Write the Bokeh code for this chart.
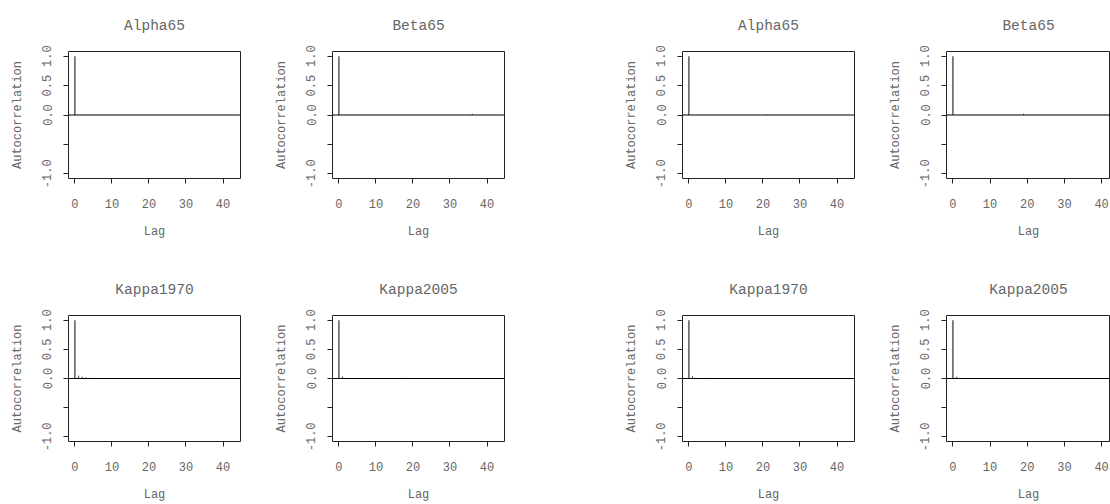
from bokeh.plotting import figure
from bokeh.layouts import column, row
from bokeh.models import FixedTicker, Span, Range1d
from bokeh.embed import file_html
from bokeh.resources import INLINE

lags = list(range(44))

titles = ["Alpha65", "Beta65", "Kappa1970", "Kappa2005"]

alpha65_a = [1.0, 0.004, -0.003, 0.002, -0.004, 0.003, -0.002, 0.004, -0.003, 0.002, 0.003,
             -0.004, 0.002, -0.003, 0.004, -0.002, 0.003, 0.005, -0.003, 0.002, -0.004, 0.003,
             0.004, -0.002, 0.003, -0.003, 0.002, 0.004, -0.002, 0.003, -0.004, 0.002, 0.003,
             -0.003, 0.004, 0.002, -0.003, 0.005, -0.002, 0.003, -0.004, 0.002, 0.003, -0.002]
beta65_a = [1.0, 0.003, -0.002, 0.004, -0.003, 0.002, 0.003, -0.004, 0.002, -0.003, 0.003,
            0.002, -0.004, 0.003, -0.002, 0.004, 0.002, -0.003, 0.003, -0.002, 0.004, -0.003,
            0.006, 0.002, -0.003, 0.003, -0.005, 0.002, 0.003, -0.004, 0.002, -0.003, 0.003,
            0.002, -0.002, 0.004, 0.02, 0.003, -0.003, 0.002, 0.004, -0.002, 0.003, -0.003]
kappa1970_a = [1.0, 0.05, 0.03, 0.02, 0.012, 0.006, 0.008, 0.005, 0.004, -0.003, 0.003,
               0.002, 0.004, -0.006, 0.003, 0.002, -0.003, 0.004, 0.002, 0.005, -0.002, 0.003,
               0.002, -0.004, 0.003, 0.002, -0.003, 0.004, 0.002, 0.003, -0.002, 0.004, 0.003,
               0.002, -0.003, 0.003, 0.004, 0.002, -0.002, 0.003, 0.004, 0.002, -0.003, 0.002]
kappa2005_a = [1.0, 0.035, 0.006, 0.004, 0.003, -0.003, 0.004, 0.002, 0.005, 0.003, -0.002,
               0.004, 0.003, 0.002, 0.004, 0.003, -0.002, 0.004, 0.012, 0.003, -0.004, 0.002,
               -0.003, 0.003, 0.002, -0.004, 0.003, 0.002, -0.003, 0.004, 0.002, 0.003, -0.003,
               0.002, 0.004, -0.002, 0.003, 0.002, -0.003, 0.003, 0.002, 0.003, -0.002, 0.003]
alpha65_b = [1.0, 0.003, -0.002, 0.003, -0.004, -0.003, 0.002, 0.004, -0.002, 0.003, -0.003,
             0.002, 0.004, -0.002, -0.004, 0.003, 0.002, -0.003, 0.004, 0.002, -0.002, 0.01,
             0.003, -0.003, 0.002, 0.004, -0.002, 0.003, -0.003, 0.002, 0.004, -0.003, 0.002,
             0.003, -0.002, 0.004, 0.002, -0.003, 0.003, 0.002, -0.004, 0.003, 0.002, -0.002]
beta65_b = [1.0, 0.004, 0.002, -0.003, 0.003, 0.002, -0.002, 0.004, 0.003, -0.003, 0.002,
            0.004, 0.005, -0.002, 0.003, 0.004, -0.003, 0.002, 0.004, 0.02, 0.003, -0.002,
            0.004, 0.002, -0.003, 0.003, 0.002, -0.004, 0.003, 0.002, -0.003, 0.004, 0.002,
            0.003, -0.002, 0.003, 0.004, -0.003, 0.002, 0.003, -0.002, 0.004, 0.002, -0.003]
kappa1970_b = [1.0, 0.04, 0.006, 0.004, -0.003, 0.004, 0.01, 0.008, 0.004, 0.003, -0.002,
               0.003, 0.004, -0.003, 0.002, 0.003, -0.004, 0.003, 0.002, -0.003, 0.004, 0.002,
               0.003, -0.002, 0.004, 0.003, -0.003, 0.002, 0.004, -0.002, 0.003, 0.005, -0.003,
               0.002, 0.004, -0.005, 0.003, 0.002, -0.003, 0.004, 0.002, -0.003, 0.003, 0.002]
kappa2005_b = [1.0, 0.03, 0.004, 0.003, -0.003, 0.002, 0.004, 0.003, -0.002, 0.003, 0.004,
               -0.003, 0.002, 0.004, 0.003, -0.002, 0.003, 0.002, -0.003, 0.004, 0.002, 0.003,
               -0.002, 0.004, 0.003, -0.003, 0.002, 0.003, 0.004, -0.002, 0.003, 0.006, 0.002,
               -0.003, 0.004, 0.002, 0.003, -0.002, 0.003, 0.004, -0.003, 0.002, 0.003, 0.002]

y_ticks = [-1.0, -0.5, 0.0, 0.5, 1.0]
y_tick_labels = {-1.0: "-1.0", -0.5: "", 0.0: "0.0", 0.5: "0.5", 1.0: "1.0"}
x_ticks = [0, 10, 20, 30, 40]

FONT = "Liberation Mono"
TXT = "#666666"
LINE = "#222222"


def make_panel(title, vals, width, border_right, height, border_bottom, x_end):
    p = figure(width=width, height=height, output_backend="svg", toolbar_location=None,
               x_range=Range1d(-1.72, x_end), y_range=Range1d(-1.08, 1.08),
               min_border_left=68, min_border_right=border_right,
               min_border_top=51, min_border_bottom=border_bottom,
               title=title)
    p.title.align = "center"
    p.title.vertical_align = "top"
    p.title.text_font = FONT
    p.title.text_font_size = "14.5px"
    p.title.text_font_style = "normal"
    p.title.text_color = TXT
    p.title.standoff = 31
    p.xgrid.visible = False
    p.ygrid.visible = False
    p.outline_line_color = LINE
    p.outline_line_width = 1
    p.background_fill_color = "white"
    p.border_fill_color = "white"

    for ax in (p.xaxis[0], p.yaxis[0]):
        ax.axis_line_color = None
        ax.major_tick_line_color = LINE
        ax.major_tick_in = 0
        ax.major_tick_out = 5
        ax.minor_tick_line_color = None
        ax.major_label_text_font = FONT
        ax.major_label_text_font_size = "12px"
        ax.major_label_text_color = TXT
        ax.axis_label_text_font = FONT
        ax.axis_label_text_font_size = "12px"
        ax.axis_label_text_font_style = "normal"
        ax.axis_label_text_color = TXT

    p.xaxis.ticker = FixedTicker(ticks=x_ticks)
    p.xaxis.axis_label = "Lag"
    p.xaxis.major_label_standoff = 15
    p.xaxis.axis_label_standoff = 14

    p.yaxis.ticker = FixedTicker(ticks=y_ticks)
    p.yaxis.major_label_overrides = y_tick_labels
    p.yaxis.major_label_orientation = "vertical"
    p.yaxis.axis_label = "Autocorrelation"
    p.yaxis.major_label_standoff = 12
    p.yaxis.axis_label_standoff = 15

    p.add_layout(Span(location=0, dimension="width", line_color="black", line_width=1))
    p.segment(x0=lags[1:], y0=[0] * (len(lags) - 1), x1=lags[1:], y1=vals[1:],
              line_color="#444444", line_width=1)
    p.segment(x0=[lags[0]], y0=[0], x1=[lags[0]], y1=[vals[0]],
              line_color="#666666", line_width=1.6)
    return p


widths = [264, 350, 264, 232]
borders_right = [24, 110, 24, 0]
x_ends = [44.72, 44.72, 44.72, 42.4]

group_a = [alpha65_a, beta65_a, kappa1970_a, kappa2005_a]
group_b = [alpha65_b, beta65_b, kappa1970_b, kappa2005_b]

row1_data = [(titles[0], group_a[0]), (titles[1], group_a[1]),
             (titles[0], group_b[0]), (titles[1], group_b[1])]
row2_data = [(titles[2], group_a[2]), (titles[3], group_a[3]),
             (titles[2], group_b[2]), (titles[3], group_b[3])]

row1 = [make_panel(t, v, widths[i], borders_right[i], 264, 86, x_ends[i])
        for i, (t, v) in enumerate(row1_data)]
row2 = [make_panel(t, v, widths[i], borders_right[i], 240, 62, x_ends[i])
        for i, (t, v) in enumerate(row2_data)]

layout = column(row(*row1), row(*row2))

open("out.html", "w").write(file_html(layout, INLINE))
